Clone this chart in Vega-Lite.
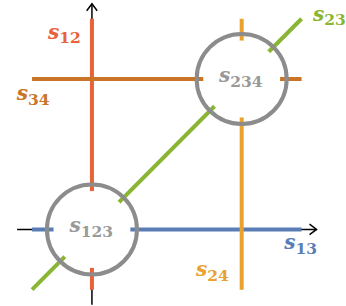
{
  "$schema": "https://vega.github.io/schema/vega-lite/v6.json",
  "width": 346,
  "height": 306,
  "autosize": {"type": "fit", "contains": "padding"},
  "padding": 0,
  "background": "white",
  "config": {"view": {"stroke": null}},
  "datasets": {
    "axes": [
      {"axis": "x", "x": -0.5, "y": 0, "x2": 1.5, "y2": 0},
      {"axis": "y", "x": 0, "y": -0.5, "x2": 0, "y2": 1.5}
    ],
    "heads": [
      {"axis": "x", "x": 1.5, "y": 0},
      {"axis": "y", "x": 0, "y": 1.5}
    ],
    "segs": [
      {"name": "s13", "x": -0.4, "y": 0, "x2": 1.4, "y2": 0},
      {"name": "s12", "x": 0, "y": -0.4, "x2": 0, "y2": 1.4},
      {"name": "s34", "x": -0.4, "y": 1, "x2": 1.4, "y2": 1},
      {"name": "s24", "x": 1, "y": -0.4, "x2": 1, "y2": 1.4},
      {"name": "s23", "x": -0.4, "y": -0.4, "x2": 1.4, "y2": 1.4}
    ],
    "nodes": [
      {"name": "s123", "x": 0, "y": 0},
      {"name": "s234", "x": 1, "y": 1}
    ],
    "labels": [
      {"name": "s12", "sub": "12", "x": -0.218, "y": 1.267},
      {"name": "s34", "sub": "34", "x": -0.427, "y": 0.858},
      {"name": "s234", "sub": "234", "x": 0.924, "y": 0.979},
      {"name": "s123", "sub": "123", "x": -0.075, "y": -0.02},
      {"name": "s13", "sub": "13", "x": 1.36, "y": -0.13},
      {"name": "s24", "sub": "24", "x": 0.77, "y": -0.31},
      {"name": "s23", "sub": "23", "x": 1.551, "y": 1.386}
    ]
  },
  "encoding": {
    "x": {"field": "x", "type": "quantitative", "axis": null,
          "scale": {"domain": [-0.614, 1.670], "nice": false, "zero": false}},
    "y": {"field": "y", "type": "quantitative", "axis": null,
          "scale": {"domain": [-0.502, 1.518], "nice": false, "zero": false}}
  },
  "layer": [
    {
      "data": {"name": "axes"},
      "mark": {"type": "rule", "color": "black", "strokeWidth": 1.5},
      "encoding": {"x2": {"field": "x2"}, "y2": {"field": "y2"}}
    },
    {
      "data": {"name": "heads"},
      "mark": {"type": "point", "shape": "M-1,-0.75L0,0L-1,0.75", "filled": false,
               "stroke": "black", "strokeWidth": 1.5, "size": 196, "opacity": 1},
      "encoding": {
        "angle": {"field": "axis", "type": "nominal",
                  "scale": {"domain": ["x", "y"], "range": [0, 270]}, "legend": null}
      }
    },
    {
      "data": {"name": "segs"},
      "mark": {"type": "rule", "strokeWidth": 4},
      "encoding": {
        "x2": {"field": "x2"}, "y2": {"field": "y2"},
        "color": {"field": "name", "type": "nominal", "legend": null,
                  "scale": {"domain": ["s12", "s13", "s23", "s24", "s34", "s123", "s234"],
                            "range": ["#e8623a", "#5a7db5", "#8ab533", "#e9a22f", "#c97426", "#999999", "#999999"]}}
      }
    },
    {
      "data": {"name": "nodes"},
      "mark": {"type": "point", "shape": "circle", "filled": true, "fill": "white",
               "strokeWidth": 0, "size": 5929, "opacity": 1}
    },
    {
      "data": {"name": "nodes"},
      "mark": {"type": "point", "shape": "circle", "filled": false, "stroke": "#8c8c8c",
               "strokeWidth": 4, "size": 8100, "opacity": 1}
    },
    {
      "data": {"name": "labels"},
      "mark": {"type": "text", "text": "s", "align": "right", "baseline": "alphabetic",
               "font": "DejaVu Serif", "fontStyle": "italic", "fontWeight": "bold", "fontSize": 20},
      "encoding": {
        "color": {"field": "name", "type": "nominal", "legend": null}
      }
    },
    {
      "data": {"name": "labels"},
      "mark": {"type": "text", "align": "left", "baseline": "alphabetic", "dy": 4.5,
               "font": "DejaVu Serif", "fontWeight": "bold", "fontSize": 15.5},
      "encoding": {
        "text": {"field": "sub"},
        "color": {"field": "name", "type": "nominal", "legend": null}
      }
    }
  ]
}
